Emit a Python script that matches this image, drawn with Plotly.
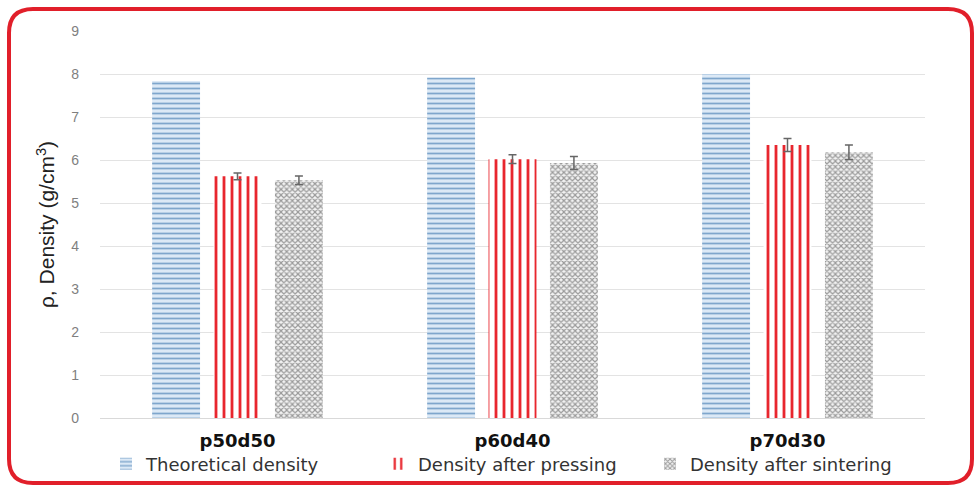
import plotly.graph_objects as go

categories = ["p50d50", "p60d40", "p70d30"]
theoretical = [7.84, 7.92, 8.0]
pressing = [5.62, 6.02, 6.35]
pressing_err = [0.08, 0.1, 0.15]
sintering = [5.53, 5.93, 6.18]
sintering_err = [0.1, 0.15, 0.17]
y_ticks = [0, 1, 2, 3, 4, 5, 6, 7, 8, 9]

fig = go.Figure()
fig.add_trace(go.Bar(
    name="Theoretical density", x=categories, y=theoretical,
    marker=dict(color="#dce9f6", line=dict(width=0),
                pattern=dict(shape="-", fgcolor="#7fa6cc", bgcolor="#dce9f6",
                             size=5, solidity=0.35, fillmode="replace")),
))
fig.add_trace(go.Bar(
    name="Density after pressing", x=categories, y=pressing,
    error_y=dict(type="data", array=pressing_err, color="#666666", thickness=1.5, width=4),
    marker=dict(color="white", line=dict(width=0),
                pattern=dict(shape="|", fgcolor="#e8262e", bgcolor="white",
                             size=8, solidity=0.35, fillmode="replace")),
))
fig.add_trace(go.Bar(
    name="Density after sintering", x=categories, y=sintering,
    error_y=dict(type="data", array=sintering_err, color="#666666", thickness=1.5, width=4),
    marker=dict(color="#e0e0e0", line=dict(width=0),
                pattern=dict(shape="x", fgcolor="#9a9a9a", bgcolor="#f2f2f2",
                             size=4, solidity=0.5, fillmode="replace")),
))

# border (rounded rectangle) in paper coords; plot area px x:100-925, y:31-418
L, R, T, B = 100, 925, 31, 418
def px(xp): return (xp - L) / (R - L)
def py(yp): return (B - yp) / (B - T)
x0, x1, y0, y1, r = 9, 972, 9, 483, 24
path = (f"M {px(x0+r)},{py(y0)} L {px(x1-r)},{py(y0)} Q {px(x1)},{py(y0)} {px(x1)},{py(y0+r)} "
        f"L {px(x1)},{py(y1-r)} Q {px(x1)},{py(y1)} {px(x1-r)},{py(y1)} "
        f"L {px(x0+r)},{py(y1)} Q {px(x0)},{py(y1)} {px(x0)},{py(y1-r)} "
        f"L {px(x0)},{py(y0+r)} Q {px(x0)},{py(y0)} {px(x0+r)},{py(y0)} Z")
fig.add_shape(type="path", path=path, xref="paper", yref="paper",
              line=dict(color="#e11f2a", width=4), layer="above")

fig.update_layout(
    width=979, height=488,
    margin=dict(l=L, r=979 - R, t=T, b=488 - B, autoexpand=False),
    paper_bgcolor="white", plot_bgcolor="white",
    barmode="group", bargap=0.33, bargroupgap=0.22,
    font=dict(family="Liberation Sans, Arial, sans-serif", color="#404040"),
    showlegend=True,
    legend=dict(orientation="h", x=px(106), xanchor="left", y=py(464), yanchor="middle",
                entrywidth=227, entrywidthmode="pixels", bgcolor="rgba(0,0,0,0)",
                font=dict(size=18, color="#333333", family="DejaVu Sans, sans-serif"),
                itemsizing="constant"),
    xaxis=dict(showgrid=False, showline=True, linecolor="#d9d9d9", linewidth=1,
               tickfont=dict(size=18, color="#111111", family="DejaVu Sans, sans-serif"),
               tickprefix="<b>", ticksuffix="</b>", ticks="", ticklabelstandoff=6),
    yaxis=dict(range=[0, 9], tickvals=y_ticks, showgrid=True, gridcolor="#e3e3e3", gridwidth=1,
               zeroline=False, tickfont=dict(size=14, color="#7f7f7f"), ticklabelstandoff=20,
               title=dict(text="ρ, Density (g/cm<sup>3</sup>)", font=dict(size=21, color="#222222"),
                          standoff=10)),
)

fig.write_html("out.html", config={"displayModeBar": False},
               post_script="document.body.style.margin='0';document.body.style.overflow='hidden';")
